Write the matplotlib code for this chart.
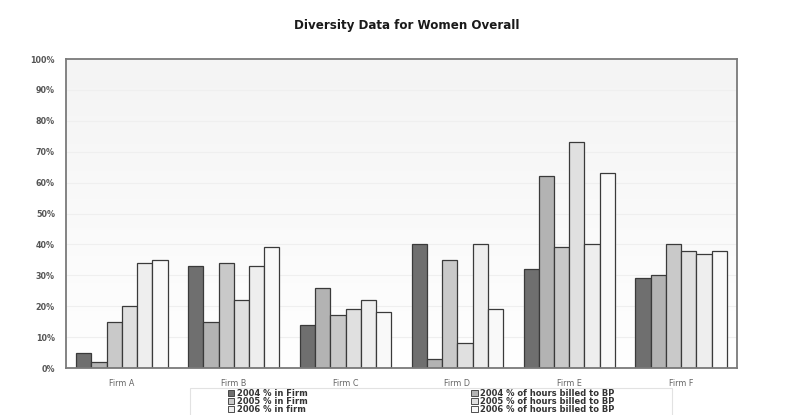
import numpy as np
import matplotlib
matplotlib.use("Agg")
import matplotlib.pyplot as plt
from matplotlib.patches import Patch, Rectangle

firms = ["Firm A", "Firm B", "Firm C", "Firm D", "Firm E", "Firm F"]
series_names = [
    "2004 % in Firm",
    "2004 % of hours billed to BP",
    "2005 % in Firm",
    "2005 % of hours billed to BP",
    "2006 % in firm",
    "2006 % of hours billed to BP",
]
firm_2004 = [5, 33, 14, 40, 32, 29]
hours_2004 = [2, 15, 26, 3, 62, 30]
firm_2005 = [15, 34, 17, 35, 39, 40]
hours_2005 = [20, 22, 19, 8, 73, 38]
firm_2006 = [34, 33, 22, 40, 40, 37]
hours_2006 = [35, 39, 18, 19, 63, 38]
series_values = [firm_2004, hours_2004, firm_2005, hours_2005, firm_2006, hours_2006]
yticks = [0, 10, 20, 30, 40, 50, 60, 70, 80, 90, 100]
ytick_labels = [f"{v}%" for v in yticks]

colors = ["#6f6f6f", "#b3b3b3", "#c9c9c9", "#e0e0e0", "#eeeeee", "#f9f9f9"]

plt.rcParams['font.family'] = ['DejaVu Sans']

W, H = 806, 415
fig = plt.figure(figsize=(W / 100, H / 100), dpi=100)
fig.patch.set_facecolor("white")
ax = fig.add_axes([66 / W, 1 - 368 / H, (737 - 66) / W, (368 - 59) / H])

# background gradient
grad = np.linspace(0, 1, 256).reshape(-1, 1)
ax.imshow(grad, extent=[-0.5, len(firms) - 0.5, 0, 100], aspect='auto',
          cmap=matplotlib.colors.LinearSegmentedColormap.from_list("g", ["#ffffff", "#f4f4f4"]),
          origin='lower', zorder=0)

for v in yticks[1:-1]:
    ax.axhline(v, color="#efefef", lw=0.8, zorder=0.5)

x = np.arange(len(firms))
w = 0.136
n = len(series_values)
for i, (vals, c) in enumerate(zip(series_values, colors)):
    ax.bar(x + (i - (n - 1) / 2) * w, vals, width=w, color=c,
           edgecolor="#3a3a3a", linewidth=0.9, zorder=2)

ax.set_xlim(-0.5, len(firms) - 0.5)
ax.set_ylim(0, 100)
ax.set_yticks(yticks)
ax.set_yticklabels(ytick_labels, fontsize=5.8, fontweight='bold', color="#555555")
ax.set_xticks(x)
ax.set_xticklabels(firms, fontsize=5.8, color="#666666")
ax.tick_params(axis='x', length=0, pad=8)
ax.tick_params(axis='y', length=0, pad=8)
for s in ax.spines.values():
    s.set_color("#7a7a7a")
    s.set_linewidth(1.3)

fig.text(407 / W, 1 - 26 / H, "Diversity Data for Women Overall",
         ha='center', va='center', fontsize=8.6, fontweight='bold', color="#1a1a1a")

# legend frame
fig.add_artist(Rectangle((190 / W, -0.05), (672 - 190) / W, 0.05 + 1 - 388 / H,
                         transform=fig.transFigure, facecolor="white",
                         edgecolor="#e2e2e2", linewidth=0.8, zorder=1))

handles = [Patch(facecolor=c, edgecolor="#333333", linewidth=0.6) for c in colors]
order = [0, 2, 4, 1, 3, 5]
leg = fig.legend([handles[k] for k in order], [series_names[k] for k in order],
                 ncol=2, loc='upper left', bbox_to_anchor=(226 / W, 1 - 387 / H),
                 frameon=False, prop={'weight': 'bold', 'size': 6.0},
                 handlelength=0.8, handleheight=0.7, handletextpad=0.3,
                 columnspacing=19.6, labelspacing=-0.1, borderpad=0.2,
                 borderaxespad=0)
leg.set_zorder(2)
for t in leg.get_texts():
    t.set_color("#333333")

fig.savefig("out.png", dpi=100)
